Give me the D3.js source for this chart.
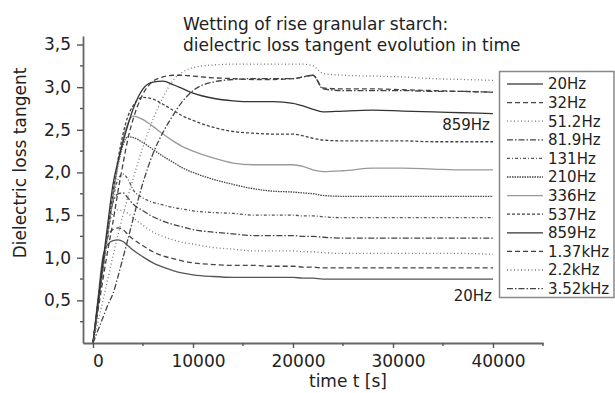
<!DOCTYPE html>
<html>
<head>
<meta charset="utf-8">
<script src="https://cdn.jsdelivr.net/npm/d3@7"></script>
<style>
  body { margin: 0; background: #fff; }
  text { font-family: "DejaVu Sans", sans-serif; fill: #222; }
</style>
</head>
<body>
<script>
// time grid (s)
var times = [0, 500, 1000, 1500, 2000, 2500, 3000, 3500, 4000, 5000, 6000, 7000, 8000, 9000, 10000,
  12000, 14000, 16000, 18000, 20000, 21000, 22000, 23000, 25000, 28000, 31000, 34000, 37000, 40000];

var freqs = ["20Hz", "32Hz", "51.2Hz", "81.9Hz", "131Hz", "210Hz", "336Hz", "537Hz", "859Hz", "1.37kHz", "2.2kHz", "3.52kHz"];

var tan20 = [0, 0.52, 1.02, 1.16, 1.20, 1.21, 1.19, 1.14, 1.09, 1.01, 0.94, 0.89, 0.85, 0.82, 0.80, 0.78, 0.77, 0.77, 0.77, 0.77, 0.76, 0.76, 0.75, 0.75, 0.75, 0.75, 0.75, 0.75, 0.75];
var tan32 = [0, 0.48, 0.95, 1.25, 1.33, 1.35, 1.33, 1.27, 1.22, 1.14, 1.07, 1.02, 0.99, 0.96, 0.94, 0.92, 0.91, 0.91, 0.90, 0.90, 0.89, 0.89, 0.88, 0.88, 0.88, 0.88, 0.88, 0.88, 0.88];
var tan51 = [0, 0.46, 0.92, 1.32, 1.52, 1.56, 1.55, 1.52, 1.47, 1.38, 1.30, 1.25, 1.21, 1.18, 1.16, 1.12, 1.10, 1.08, 1.08, 1.08, 1.07, 1.07, 1.06, 1.05, 1.05, 1.05, 1.05, 1.05, 1.04];
var tan82 = [0, 0.45, 0.90, 1.32, 1.65, 1.75, 1.76, 1.70, 1.63, 1.55, 1.48, 1.43, 1.39, 1.36, 1.33, 1.30, 1.28, 1.26, 1.26, 1.26, 1.25, 1.25, 1.24, 1.23, 1.23, 1.23, 1.23, 1.23, 1.23];
var tan131 = [0, 0.44, 0.88, 1.30, 1.68, 1.92, 1.98, 1.92, 1.80, 1.70, 1.65, 1.62, 1.59, 1.57, 1.55, 1.53, 1.52, 1.50, 1.50, 1.50, 1.49, 1.49, 1.48, 1.47, 1.47, 1.47, 1.47, 1.47, 1.47];
var tan210 = [0, 0.44, 0.87, 1.30, 1.72, 2.08, 2.32, 2.42, 2.41, 2.35, 2.27, 2.19, 2.12, 2.05, 2.00, 1.92, 1.86, 1.81, 1.78, 1.77, 1.76, 1.75, 1.73, 1.72, 1.72, 1.72, 1.72, 1.72, 1.72];
var tan336 = [0, 0.44, 0.88, 1.30, 1.72, 2.10, 2.40, 2.58, 2.66, 2.62, 2.54, 2.45, 2.37, 2.30, 2.25, 2.17, 2.11, 2.09, 2.09, 2.09, 2.07, 2.03, 2.01, 2.02, 2.05, 2.05, 2.04, 2.03, 2.03];
var tan537 = [0, 0.45, 0.90, 1.33, 1.76, 2.15, 2.45, 2.66, 2.78, 2.88, 2.86, 2.80, 2.73, 2.66, 2.61, 2.53, 2.48, 2.46, 2.45, 2.45, 2.43, 2.40, 2.38, 2.37, 2.37, 2.37, 2.36, 2.36, 2.36];
var tan859 = [0, 0.48, 0.95, 1.42, 1.86, 2.13, 2.36, 2.56, 2.74, 2.98, 3.06, 3.07, 3.03, 2.98, 2.93, 2.87, 2.84, 2.83, 2.83, 2.81, 2.78, 2.74, 2.71, 2.72, 2.73, 2.72, 2.71, 2.70, 2.69];
var tan1370 = [0, 0.38, 0.75, 1.10, 1.42, 1.78, 2.10, 2.40, 2.62, 2.92, 3.07, 3.12, 3.14, 3.14, 3.13, 3.11, 3.10, 3.09, 3.09, 3.10, 3.12, 3.14, 2.99, 2.98, 2.98, 2.97, 2.96, 2.95, 2.94];
var tan2200 = [0, 0.25, 0.50, 0.76, 1.02, 1.27, 1.50, 1.72, 1.92, 2.30, 2.62, 2.88, 3.08, 3.18, 3.23, 3.26, 3.27, 3.27, 3.27, 3.27, 3.27, 3.25, 3.16, 3.14, 3.13, 3.12, 3.10, 3.09, 3.08];
var tan3520 = [0, 0.15, 0.30, 0.45, 0.58, 0.78, 1.00, 1.22, 1.45, 1.88, 2.22, 2.47, 2.67, 2.84, 2.96, 3.06, 3.09, 3.10, 3.10, 3.10, 3.12, 3.14, 2.98, 2.96, 2.96, 2.96, 2.95, 2.95, 2.94];

var xTicks = [0, 10000, 20000, 30000, 40000];
var yTicks = [0.5, 1.0, 1.5, 2.0, 2.5, 3.0, 3.5];
var yTickLabels = ["0,5", "1,0", "1,5", "2,0", "2,5", "3,0", "3,5"];

var allSeries = [tan20, tan32, tan51, tan82, tan131, tan210, tan336, tan537, tan859, tan1370, tan2200, tan3520];

// line look per series
var styles = [
  {c: "#555", d: null},
  {c: "#444", d: "5,3"},
  {c: "#777", d: "1,2.5"},
  {c: "#444", d: "6,2,1.5,2"},
  {c: "#555", d: "3,2,1,2"},
  {c: "#444", d: "1.5,1"},
  {c: "#999", d: null},
  {c: "#444", d: "3,2"},
  {c: "#333", d: null},
  {c: "#444", d: "5,3"},
  {c: "#777", d: "1,2.5"},
  {c: "#444", d: "6,2,1.5,2"}
];

var W = 615, H = 393;

var x = d3.scaleLinear().domain([-1000, 45000]).range([83, 543]);
var y = d3.scaleLinear().domain([0, 3.6]).range([343, 36]);

var svg = d3.select("body").append("svg")
    .attr("width", W)
    .attr("height", H);

// curves
var line = d3.line()
    .x(function(d, i) { return x(times[i]); })
    .y(function(d) { return y(d); })
    .curve(d3.curveMonotoneX);

svg.append("g").selectAll("path")
    .data(allSeries)
  .enter().append("path")
    .attr("d", line)
    .attr("fill", "none")
    .attr("stroke", function(d, i) { return styles[i].c; })
    .attr("stroke-width", 1.3)
    .attr("stroke-dasharray", function(d, i) { return styles[i].d; });

// axes
var xAxis = svg.append("g")
    .attr("transform", "translate(0," + y(0) + ")")
    .call(d3.axisBottom(x).tickValues(xTicks).tickSize(5).tickSizeOuter(0).tickFormat(d3.format("d")));
xAxis.append("g").selectAll("line")
    .data([5000, 15000, 25000, 35000, 45000])
  .enter().append("line")
    .attr("x1", function(d) { return x(d); })
    .attr("x2", function(d) { return x(d); })
    .attr("y2", 3);
xAxis.selectAll("text")
    .attr("y", 12)
    .attr("dx", 5)
    .style("font-size", "17px");

var yAxis = svg.append("g")
    .attr("transform", "translate(" + x(-1000) + ",0)")
    .call(d3.axisLeft(y).tickValues(yTicks).tickSize(6).tickSizeOuter(0)
      .tickFormat(function(d, i) { return yTickLabels[i]; }));
yAxis.append("g").selectAll("line")
    .data(d3.range(0.25, 3.6, 0.5))
  .enter().append("line")
    .attr("y1", function(d) { return y(d); })
    .attr("y2", function(d) { return y(d); })
    .attr("x2", -3);
yAxis.selectAll("text")
    .attr("x", -12)
    .style("font-size", "17px");

svg.selectAll(".domain, .tick line, g line")
    .attr("stroke", "#555")
    .attr("stroke-width", 1.4);
svg.selectAll(".domain").attr("stroke", "#666").attr("stroke-width", 1.8);

// axis titles
svg.append("text")
    .attr("x", 348)
    .attr("y", 387)
    .attr("text-anchor", "middle")
    .style("font-size", "17px")
    .text("time t [s]");

svg.append("text")
    .attr("transform", "translate(26,163) rotate(-90)")
    .attr("text-anchor", "middle")
    .style("font-size", "17px")
    .text("Dielectric loss tangent");

// title
svg.append("text")
    .attr("x", 183)
    .attr("y", 30)
    .style("font-size", "17px")
    .text("Wetting of rise granular starch:");
svg.append("text")
    .attr("x", 183)
    .attr("y", 51)
    .style("font-size", "17px")
    .text("dielectric loss tangent evolution in time");

// in-plot labels
svg.append("text")
    .attr("x", x(39700))
    .attr("y", y(2.5))
    .attr("text-anchor", "end")
    .style("font-size", "15px")
    .text("859Hz");
svg.append("text")
    .attr("x", x(39900))
    .attr("y", y(0.49))
    .attr("text-anchor", "end")
    .style("font-size", "15px")
    .text("20Hz");

// legend
var legend = svg.append("g");
legend.append("rect")
    .attr("x", 499.5)
    .attr("y", 71.5)
    .attr("width", 114.5)
    .attr("height", 226)
    .attr("fill", "#fff")
    .attr("stroke", "#888")
    .attr("stroke-width", 1.5);

var row = legend.selectAll(".row")
    .data(freqs)
  .enter().append("g")
    .attr("class", "row")
    .attr("transform", function(d, i) { return "translate(0," + (84 + i * 18.6) + ")"; });

row.append("line")
    .attr("x1", 507)
    .attr("x2", 543)
    .attr("stroke", function(d, i) { return styles[i].c; })
    .attr("stroke-width", 1.3)
    .attr("stroke-dasharray", function(d, i) { return styles[i].d; });

row.append("text")
    .attr("x", 548)
    .attr("dy", "0.36em")
    .style("font-size", "15px")
    .text(function(d) { return d; });
</script>
</body>
</html>
